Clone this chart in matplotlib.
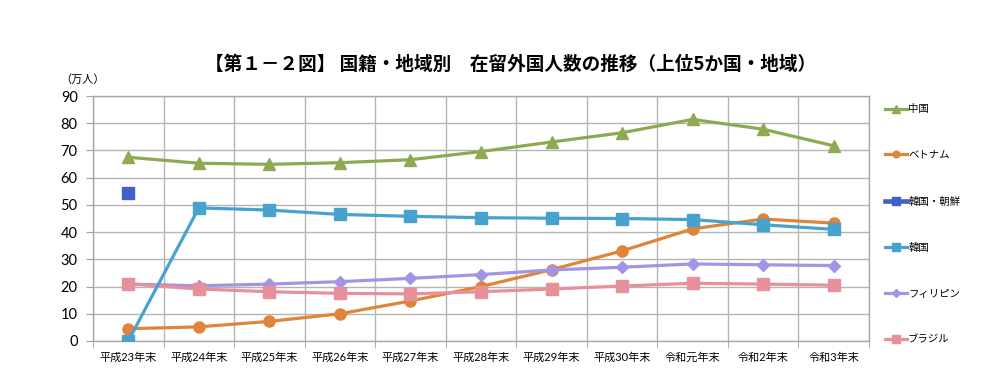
import matplotlib
matplotlib.use('Agg')
import matplotlib.pyplot as plt
import numpy as np

plt.rcParams['font.family'] = ['Lato', 'Noto Sans CJK JP', 'DejaVu Sans']

# 年次
years = ['平成23年末', '平成24年末', '平成25年末', '平成26年末', '平成27年末', '平成28年末',
         '平成29年末', '平成30年末', '令和元年末', '令和2年末', '令和3年末']

# 在留外国人数（万人）
china = [67.5, 65.3, 64.9, 65.5, 66.6, 69.6, 73.1, 76.5, 81.4, 77.8, 71.7]
vietnam = [4.5, 5.2, 7.2, 10.0, 14.7, 20.0, 26.2, 33.1, 41.2, 44.8, 43.3]
korea_chosen = [54.5]
korea = [0, 48.9, 48.1, 46.5, 45.8, 45.3, 45.1, 45.0, 44.6, 42.7, 41.0]
philippines = [20.9, 20.3, 20.9, 21.8, 23.0, 24.4, 26.1, 27.1, 28.3, 28.0, 27.7]
brazil = [21.0, 19.1, 18.1, 17.5, 17.3, 18.1, 19.1, 20.2, 21.2, 20.9, 20.5]

x = np.arange(len(years))

fig = plt.figure(figsize=(10.07, 3.79), dpi=100)
ax = fig.add_axes([93/1007, 1-341/379, (869-93)/1007, (341-96)/379])

lw = 2.3
ax.plot(x, china, color='#8DAA52', lw=lw, marker='^', ms=9, label='中国', zorder=3)
ax.plot(x, vietnam, color='#E0843A', lw=lw, marker='o', ms=8, label='ベトナム', zorder=3)
ax.plot(x[:1], korea_chosen, color='#4160C8', lw=lw + 1, marker='s', ms=8.5, label='韓国・朝鮮', zorder=3)
ax.plot(x, korea, color='#47A2CF', lw=lw, marker='s', ms=9, label='韓国', zorder=4)
ax.plot(x, philippines, color='#A394E6', lw=lw, marker='D', ms=6.5, label='フィリピン', zorder=3)
ax.plot(x, brazil, color='#E8909A', lw=lw, marker='s', ms=8.5, label='ブラジル', zorder=3)

ax.set_xlim(-0.5, len(years) - 0.5)
ax.set_ylim(0, 90)
ax.set_yticks(range(0, 91, 10))
ax.set_xticks(x)
ax.set_xticklabels(years, fontsize=8)
ax.set_xticks(np.arange(-0.5, len(years)), minor=True)
ax.tick_params(axis='x', which='major', length=0, pad=8)
ax.tick_params(axis='x', which='minor', length=5, color='#A0A0A0')
ax.tick_params(axis='y', length=5, color='#A0A0A0', labelsize=10.5, pad=6)

ax.grid(axis='y', color='#B4B4B4', lw=1)
ax.grid(axis='x', which='minor', color='#B4B4B4', lw=1)
ax.set_axisbelow(True)
for s in ax.spines.values():
    s.set_color('#A8A8A8')
    s.set_linewidth(1)

fig.legend(loc='upper left', bbox_to_anchor=(880/1007, 1-99/379), frameon=False,
           fontsize=7.5, labelspacing=3.5, handlelength=2.1, handletextpad=0.1,
           borderpad=0, markerscale=0.6)

fig.text(511/1007, 1-64/379, '【第１－２図】 国籍・地域別　在留外国人数の推移（上位5か国・地域）',
         ha='center', va='center', fontsize=13.4, fontweight='bold',
         family=['Noto Sans CJK JP'])
fig.text(60/1007, 1-80/379, '（万人）', ha='left', va='center', fontsize=8,
         family=['Noto Sans CJK JP'])

fig.savefig('out.png', dpi=100)
